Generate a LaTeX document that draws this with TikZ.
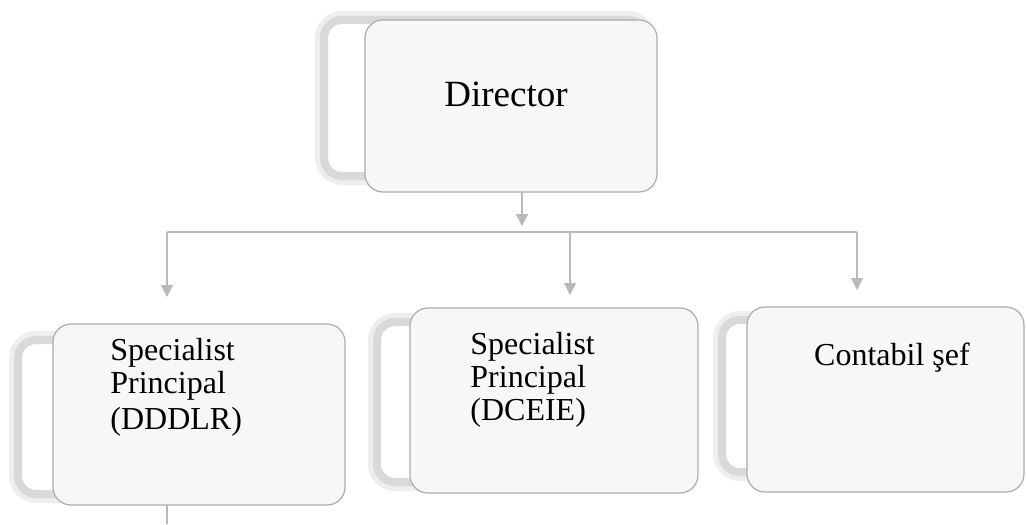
\documentclass[tikz,border=0pt]{standalone}
\usepackage{fontspec}
\setmainfont{Liberation Serif}
\usetikzlibrary{arrows.meta}
\begin{document}
\begin{tikzpicture}[x=0.5pt,y=-0.5pt,
    back/.style={rectangle, rounded corners=9pt, fill=white, draw=gray!30,
      line width=4pt, outer sep=0pt, inner sep=0pt,
      preaction={draw=gray!13, line width=9pt}},
    card/.style={rectangle, rounded corners=9pt, fill=gray!6, draw=gray!65,
      line width=0.6pt, outer sep=0pt, inner sep=0pt},
    txt/.style={inner sep=0pt, font=\fontsize{16}{16.5}\selectfont, align=left},
    line/.style={draw=gray!55, line width=0.6pt},
    link/.style={line, -{Triangle[width=6pt,length=6pt]}}]
     \useasboundingbox (0,0) rectangle (1026,524);

     % cards behind
     \node[back, minimum width=161pt, minimum height=78pt] (dirback) at (485,98) {};
     \node[back, minimum width=151pt, minimum height=77pt] (splback) at (169,417) {};
     \node[back, minimum width=151.5pt, minimum height=80pt] (spmback) at (528.5,402) {};
     \node[back, minimum width=139pt, minimum height=76pt] (contback) at (861,396) {};

     % cards
     \node[card, minimum width=146pt, minimum height=86pt] (dir) at (511,106) {};
     \node[card, minimum width=146pt, minimum height=90.5pt] (spl) at (199,414.5) {};
     \node[card, minimum width=144pt, minimum height=92.5pt] (spm) at (554,400.5) {};
     \node[card, minimum width=138.5pt, minimum height=92.5pt] (cont) at (885.5,399.5) {};

     \node[txt, font=\fontsize{18.5}{20}\selectfont] (dirtxt) at (506,94) {Director};
     \node[txt, anchor=north west] (spltxt) at (110,338) {Specialist\\Principal\\[1.5pt](DDDLR)};
     \node[txt, anchor=north west] (spmtxt) at (470,332) {Specialist\\Principal\\(DCEIE)};
     \node[txt] (conttxt) at (892,358) {Contabil şef};

     % connectors
     \coordinate (stem) at (522,232);
     \coordinate (busl) at (167,232);
     \coordinate (busm) at (570,232);
     \coordinate (busr) at (857,232);
     \coordinate (tail) at (167,524);

     \draw[link] (dir.south -| stem) -- ([yshift=3pt]stem);
     \draw[line] (busl) -- (busr);
     \draw[link] (busl) -- ([yshift=13.5pt]busl |- spl.north);
     \draw[link] (busm) -- ([yshift=6.5pt]busm |- spm.north);
     \draw[link] (busr) -- ([yshift=8.5pt]busr |- cont.north);
     \draw[line] (spl.south -| tail) -- (tail);
    \end{tikzpicture}
\end{document}
